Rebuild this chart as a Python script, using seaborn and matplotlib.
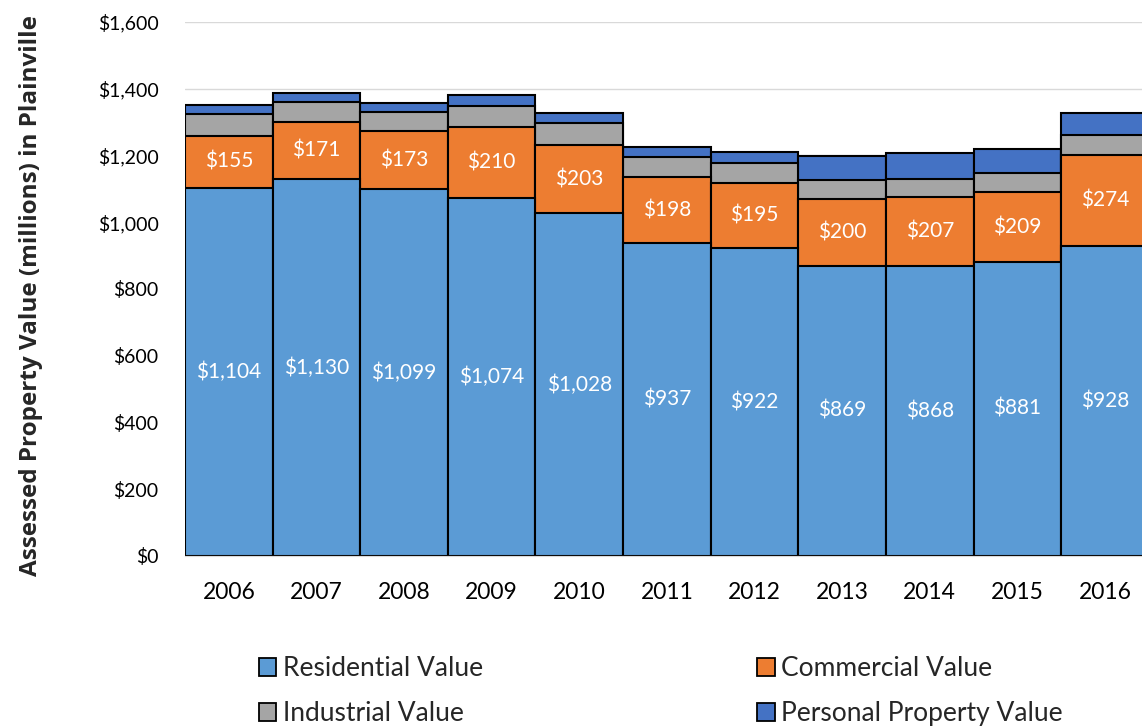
import numpy as np
import pandas as pd
import matplotlib
matplotlib.use("Agg")
import matplotlib.pyplot as plt
import seaborn as sns
from matplotlib.patches import Patch
from matplotlib.ticker import FuncFormatter

# valores (milhões de dólares)
years = ["2006", "2007", "2008", "2009", "2010", "2011", "2012", "2013", "2014", "2015", "2016"]
residential = [1104, 1130, 1099, 1074, 1028, 937, 922, 869, 868, 881, 928]
commercial = [155, 171, 173, 210, 203, 198, 195, 200, 207, 209, 274]
industrial = [65, 59, 57, 65, 65, 61, 59, 57, 54, 59, 58]
personal = [27, 28, 27, 32, 30, 30, 33, 72, 77, 69, 68]

series = ["Residential Value", "Commercial Value", "Industrial Value", "Personal Property Value"]
colors = ["#5B9BD5", "#ED7D31", "#A5A5A5", "#4472C4"]

df = pd.DataFrame({"year": years, "Residential Value": residential,
                   "Commercial Value": commercial, "Industrial Value": industrial,
                   "Personal Property Value": personal})
cum = df[series].cumsum(axis=1)

sns.set_style("white")
plt.rcParams["font.family"] = ["Lato", "DejaVu Sans"]

fig = plt.figure(figsize=(11.42, 7.28), dpi=100)
ax = fig.add_axes([0.162, 0.2363, 0.844, 0.7335])

ax.set_axisbelow(True)
ax.yaxis.grid(True, color="#D9D9D9", linewidth=1)

# barras empilhadas: desenhar do total até a base
for name, color in reversed(list(zip(series, colors))):
    sns.barplot(x=df["year"], y=cum[name], color=color, width=1.0,
                edgecolor="black", linewidth=1.5, saturation=1, ax=ax)

# rótulos de dados
for i in range(len(years)):
    ax.text(i, residential[i] / 2, f"${residential[i]:,}", ha="center", va="center",
            color="white", fontsize=15)
    ax.text(i, residential[i] + commercial[i] / 2, f"${commercial[i]:,}", ha="center",
            va="center", color="white", fontsize=15)

ax.set_xlim(-0.5, len(years) - 0.5)
ax.set_ylim(0, 1600)
ax.set_yticks(np.arange(0, 1601, 200))
ax.yaxis.set_major_formatter(FuncFormatter(lambda v, p: f"${v:,.0f}"))
ax.tick_params(axis="both", length=0, colors="black")
ax.tick_params(axis="x", pad=19, labelsize=16.5)
ax.tick_params(axis="y", pad=19, labelsize=14)
ax.set_xlabel("")
ax.set_ylabel("")
for s in ["top", "right", "left"]:
    ax.spines[s].set_visible(False)
ax.spines["bottom"].set_color("#D9D9D9")

fig.text(0.027, (728 - 576) / 728, "Assessed Property Value (millions) in Plainville",
         rotation=90, ha="center", va="bottom", fontsize=17.5,
         fontweight="bold", family=["Open Sans", "DejaVu Sans"])

# ordem por linha: Residential, Commercial / Industrial, Personal
order = [0, 2, 1, 3]
handles = [Patch(facecolor=colors[k], edgecolor="black", linewidth=1.3) for k in order]
labels = [series[k] for k in order]
fig.legend(handles, labels, loc="upper left", bbox_to_anchor=(0.213, 0.12),
           ncol=2, frameon=False, fontsize=19, handlelength=0.65, handleheight=0.65,
           handletextpad=0.25, columnspacing=10.4, labelspacing=0.75,
           borderaxespad=0.2)

fig.savefig("out.png", dpi=100)
